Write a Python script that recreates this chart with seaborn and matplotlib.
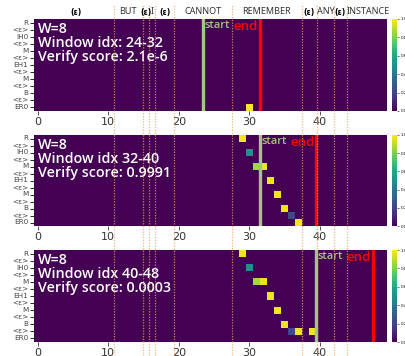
import numpy as np
import matplotlib
matplotlib.use("Agg")
import matplotlib.pyplot as plt
import seaborn as sns

# ---------------- data ----------------
phones = ["R", "<ε>", "IH0", "<ε>", "M", "<ε>", "EH1", "<ε>", "M", "<ε>", "B", "<ε>", "ER0"]
n_frames = 50
x_ticks = [0, 10, 20, 30, 40]

words = ["(ε)", "BUT", "(ε)", "I", "(ε)", "CANNOT", "REMEMBER", "(ε)", "ANY", "(ε)", "INSTANCE"]
word_bounds = [0.0, 10.8, 14.9, 15.8, 16.7, 19.3, 27.5, 37.4, 39.6, 42.0, 43.8, 49.8]

p1_rows = [12]
p1_cols = [30]
p1_vals = [1.0]

p2_rows = [0, 2, 4, 4, 6, 8, 10, 11, 12]
p2_cols = [29, 30, 31, 32, 33, 34, 35, 36, 37]
p2_vals = [0.98, 0.5, 0.86, 0.97, 0.97, 0.98, 0.97, 0.22, 0.98]

p3_rows = [0, 2, 4, 4, 6, 8, 10, 11, 11, 11]
p3_cols = [29, 30, 31, 32, 33, 34, 35, 36, 37, 39]
p3_vals = [0.97, 0.5, 0.86, 0.97, 0.97, 0.98, 0.97, 0.22, 0.98, 0.98]

windows = [(24, 32), (32, 40), (40, 48)]
window_labels = ["Window idx: 24-32", "Window idx 32-40", "Window idx 40-48"]
scores = ["2.1e-6", "0.9991", "0.0003"]
W = 8


def build(rows, cols, vals):
    m = np.zeros((len(phones), n_frames))
    for r, c, v in zip(rows, cols, vals):
        m[r, c] = v
    return m


mats = [build(p1_rows, p1_cols, p1_vals),
        build(p2_rows, p2_cols, p2_vals),
        build(p3_rows, p3_cols, p3_vals)]

# ---------------- layout ----------------
FW, FH = 406, 356
fig = plt.figure(figsize=(FW / 100, FH / 100), dpi=100)

left_px, right_px = 34, 387
panels_px = [(19, 111), (135, 226), (250, 342)]  # (top, bottom)
cb_l, cb_r = 392, 397

start_col = "#a3c585"
dot_col = "#f5a35f"
label_font = "Open Sans"

for i, (mat, (top, bot)) in enumerate(zip(mats, panels_px)):
    ax = fig.add_axes([left_px / FW, 1 - bot / FH, (right_px - left_px) / FW, (bot - top) / FH])
    cax = fig.add_axes([cb_l / FW, 1 - bot / FH, (cb_r - cb_l) / FW, (bot - top) / FH])
    sns.heatmap(mat, ax=ax, cbar_ax=cax, cmap="viridis", vmin=0, vmax=1,
                xticklabels=False, yticklabels=phones)
    ax.set_xticks([t + 0.5 for t in x_ticks])
    ax.set_xticklabels([str(t) for t in x_ticks], fontsize=8, color="#222222")
    ax.tick_params(axis="x", length=3, width=0.6, pad=1, colors="#333333")
    ax.tick_params(axis="y", length=3, width=0.6, pad=1, labelsize=5.2, labelcolor="#444444")
    plt.setp(ax.get_yticklabels(), rotation=0)

    cax.tick_params(labelsize=3, length=1.5, width=0.4, pad=1)
    cax.set_yticks([0, 0.2, 0.4, 0.6, 0.8, 1.0])
    cax.set_yticklabels(["0.0", "0.2", "0.4", "0.6", "0.8", "1.0"])

    s, e = windows[i]
    ax.axvline(s, color=start_col, lw=2.4, zorder=5)
    ax.axvline(e, color="#ff0000", lw=2.4, zorder=5)
    ax.text(s + 0.2, 0.1, "start", color=start_col, fontsize=8, fontweight="semibold",
            va="top", ha="left", family=label_font, zorder=6)
    ax.text(e - 0.25, 0.1, "end", color="#ff0000", fontsize=9.5, fontweight="semibold",
            va="top", ha="right", family=label_font, zorder=6)

    ax.text(0.5, 0.45, f"W={W}\n{window_labels[i]}\nVerify score: {scores[i]}",
            color="white", fontsize=10.3, va="top", ha="left", family=label_font,
            fontweight="semibold", linespacing=0.98, zorder=6)

# overlay for word boundaries and word labels
ov = fig.add_axes([left_px / FW, 0, (right_px - left_px) / FW, 1])
ov.set_xlim(0, n_frames)
ov.set_ylim(0, 1)
ov.axis("off")
ov.patch.set_alpha(0)
for b in word_bounds[1:-1]:
    ov.axvline(b + 0.5, ymin=0, ymax=0.985, color=dot_col, lw=0.9, ls=(0, (1, 1.2)), alpha=0.8)
for w, a, b in zip(words, word_bounds[:-1], word_bounds[1:]):
    c = (a + b) / 2 + 0.5
    if w == "(ε)":
        ov.text(c, 1 - 12 / FH, w, fontsize=5.5, fontweight="bold", color="black",
                ha="center", va="center", family="DejaVu Sans")
    else:
        ov.text(c, 1 - 12 / FH, w, fontsize=6.5, color="#333333",
                ha="center", va="center", family="Noto Sans")

fig.savefig("out.png", dpi=100)
